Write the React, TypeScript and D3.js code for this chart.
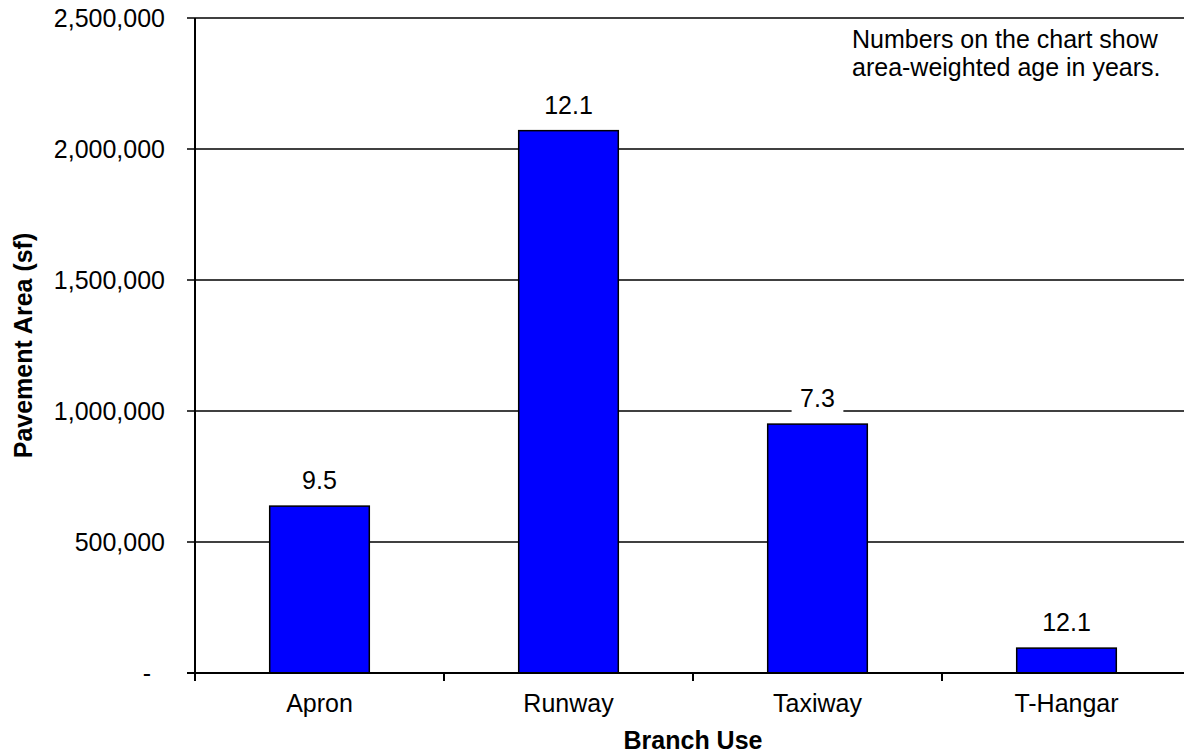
import React, { useEffect, useRef } from "react";
import * as d3 from "d3";

const categories = ["Apron", "Runway", "Taxiway", "T-Hangar"];
const areaValues = [637000, 2070000, 950000, 95000];
const ageLabels = ["9.5", "12.1", "7.3", "12.1"];
const yTickValues = [0, 500000, 1000000, 1500000, 2000000, 2500000];
const yTickLabels = ["-  ", "500,000", "1,000,000", "1,500,000", "2,000,000", "2,500,000"];
const noteLines = ["Numbers on the chart show", "area-weighted age in years."];

const W = 1184;
const H = 755;
const FONT = "'Liberation Sans', Arial, sans-serif";

export default function App() {
  const ref = useRef<SVGSVGElement | null>(null);

  useEffect(() => {
    const svg = d3.select(ref.current);
    svg.selectAll("*").remove();

    const left = 195;
    const right = 1191;
    const top = 18;
    const bottom = 673;

    const x = d3.scaleBand<string>().domain(categories).range([left, right]).paddingInner(0.6).paddingOuter(0.3);
    const y = d3.scaleLinear().domain([0, 2500000]).range([bottom, top]);
    const step = x.step();

    const g = svg.append("g");

    // gridlines (including top one) and y ticks
    yTickValues.forEach((v, i) => {
      const yy = y(v);
      if (v !== 0) {
        g.append("line")
          .attr("x1", left - 8).attr("x2", right)
          .attr("y1", yy).attr("y2", yy)
          .attr("stroke", "#000").attr("stroke-width", 1.5);
      } else {
        g.append("line")
          .attr("x1", left - 8).attr("x2", left)
          .attr("y1", yy).attr("y2", yy)
          .attr("stroke", "#000").attr("stroke-width", 2);
      }
      g.append("text")
        .attr("x", 165).attr("y", yy).attr("dy", "0.36em")
        .attr("text-anchor", "end")
        .style("white-space", "pre")
        .attr("font-family", FONT).attr("font-size", 25).attr("fill", "#000")
        .text(yTickLabels[i]);
    });

    // bars
    categories.forEach((c, i) => {
      const x0 = x(c)!;
      const yy = y(areaValues[i]);
      g.append("rect")
        .attr("x", x0).attr("y", yy)
        .attr("width", x.bandwidth()).attr("height", bottom - yy)
        .attr("fill", "#0000FF").attr("stroke", "#000").attr("stroke-width", 1.5);
    });

    // axes
    g.append("line").attr("x1", left).attr("x2", left).attr("y1", top).attr("y2", bottom + 8)
      .attr("stroke", "#000").attr("stroke-width", 2);
    g.append("line").attr("x1", left - 8).attr("x2", right).attr("y1", bottom).attr("y2", bottom)
      .attr("stroke", "#000").attr("stroke-width", 2);
    for (let i = 0; i <= categories.length; i++) {
      const xx = left + step * i;
      g.append("line").attr("x1", xx).attr("x2", xx).attr("y1", bottom).attr("y2", bottom + 8)
        .attr("stroke", "#000").attr("stroke-width", 2);
    }

    // category labels
    categories.forEach((c) => {
      g.append("text")
        .attr("x", x(c)! + x.bandwidth() / 2).attr("y", 712)
        .attr("text-anchor", "middle")
        .attr("font-family", FONT).attr("font-size", 25).attr("fill", "#000")
        .text(c);
    });

    // value labels with white background
    categories.forEach((c, i) => {
      const cx = x(c)! + x.bandwidth() / 2;
      const by = y(areaValues[i]) - 17;
      const lg = g.append("g");
      const bg = lg.append("rect").attr("fill", "#fff");
      const t = lg.append("text")
        .attr("x", cx).attr("y", by)
        .attr("text-anchor", "middle")
        .attr("font-family", FONT).attr("font-size", 25).attr("fill", "#000")
        .text(ageLabels[i]);
      const bb = (t.node() as SVGTextElement).getBBox();
      bg.attr("x", bb.x - 8.5).attr("y", bb.y - 2).attr("width", bb.width + 17).attr("height", bb.height + 6);
    });

    // note
    noteLines.forEach((line, i) => {
      g.append("text")
        .attr("x", 852).attr("y", 48 + i * 28)
        .attr("font-family", FONT).attr("font-size", 25).attr("fill", "#000")
        .text(line);
    });

    // axis titles
    g.append("text")
      .attr("transform", `translate(32, ${(top + bottom) / 2}) rotate(-90)`)
      .attr("text-anchor", "middle")
      .attr("font-family", FONT).attr("font-size", 25).attr("font-weight", "bold").attr("fill", "#000")
      .text("Pavement Area (sf)");
    g.append("text")
      .attr("x", (left + right) / 2).attr("y", 749)
      .attr("text-anchor", "middle")
      .attr("font-family", FONT).attr("font-size", 25).attr("font-weight", "bold").attr("fill", "#000")
      .text("Branch Use");
  }, []);

  return (
    <svg
      ref={ref}
      width={W}
      height={H}
      style={{ position: "absolute", left: 0, top: 0, background: "#fff" }}
    />
  );
}
